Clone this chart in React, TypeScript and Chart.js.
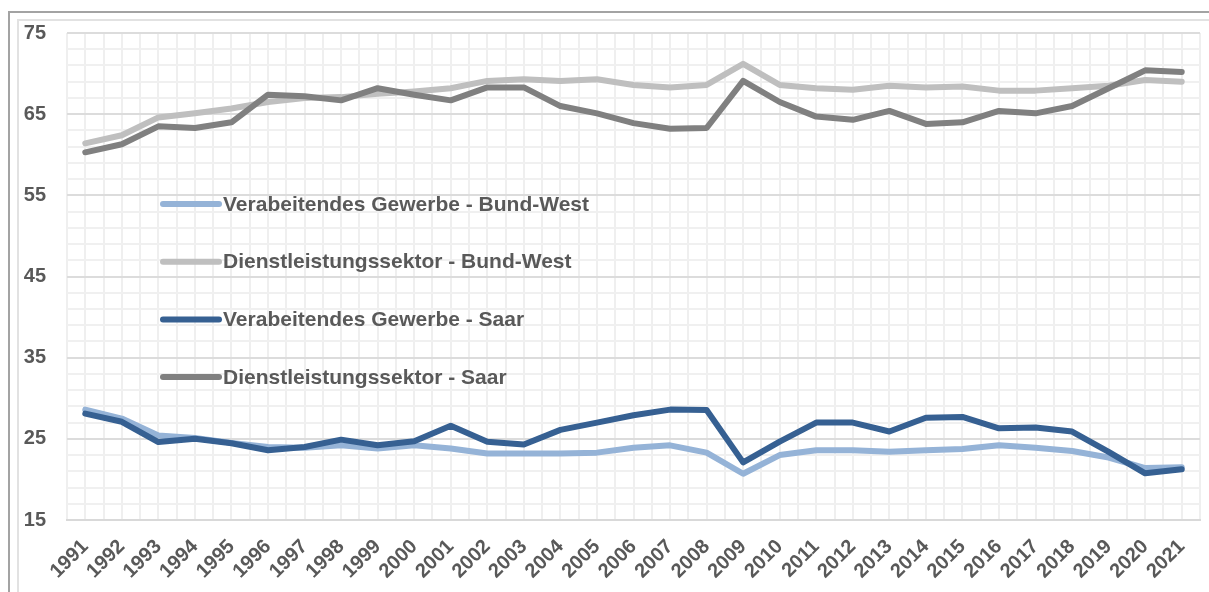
import React, { useEffect, useRef } from 'react';
import { Chart, registerables } from 'chart.js';

Chart.register(...registerables);

const years = [
  '1991', '1992', '1993', '1994', '1995', '1996', '1997', '1998', '1999', '2000',
  '2001', '2002', '2003', '2004', '2005', '2006', '2007', '2008', '2009', '2010',
  '2011', '2012', '2013', '2014', '2015', '2016', '2017', '2018', '2019', '2020', '2021',
];

const vgBundWest = [
  28.6, 27.5, 25.4, 25.1, 24.5, 24.0, 23.9, 24.2, 23.8, 24.2,
  23.8, 23.2, 23.2, 23.2, 23.3, 23.9, 24.2, 23.3, 20.7, 23.0,
  23.6, 23.6, 23.4, 23.6, 23.75, 24.2, 23.9, 23.5, 22.7, 21.4, 21.5,
];

const dlBundWest = [
  61.4, 62.4, 64.6, 65.1, 65.7, 66.5, 67.0, 67.1, 67.5, 67.8,
  68.2, 69.1, 69.3, 69.1, 69.3, 68.6, 68.3, 68.6, 71.2, 68.6,
  68.2, 68.0, 68.5, 68.3, 68.4, 67.9, 67.9, 68.2, 68.5, 69.2, 69.0,
];

const vgSaar = [
  28.1, 27.1, 24.6, 25.0, 24.45, 23.6, 24.0, 24.9, 24.2, 24.7,
  26.6, 24.65, 24.3, 26.1, 27.0, 27.9, 28.6, 28.55, 22.1, 24.65,
  27.0, 27.0, 25.9, 27.6, 27.7, 26.3, 26.4, 25.9, 23.4, 20.75, 21.25,
];

const dlSaar = [
  60.3, 61.3, 63.5, 63.3, 64.0, 67.4, 67.2, 66.7, 68.2, 67.4,
  66.7, 68.3, 68.3, 66.0, 65.1, 63.9, 63.2, 63.3, 69.1, 66.5,
  64.7, 64.3, 65.4, 63.8, 64.0, 65.4, 65.1, 66.0, 68.2, 70.4, 70.2,
];

const seriesLabels = [
  'Verabeitendes Gewerbe - Bund-West',
  'Dienstleistungssektor - Bund-West',
  'Verabeitendes Gewerbe - Saar',
  'Dienstleistungssektor - Saar',
];

const yMajorTicks = [15, 25, 35, 45, 55, 65, 75];

const FONT_FAMILY = "'Liberation Sans', Arial, sans-serif";
const TEXT_COLOR = '#595959';

const toPoints = (arr: number[]) => arr.map((v, i) => ({ x: i, y: v }));

const insideLegend = {
  id: 'insideLegend',
  afterDraw(chart: any) {
    const { ctx, chartArea } = chart;
    const x0 = chartArea.left + 96;
    const x1 = chartArea.left + 152;
    const tx = chartArea.left + 156;
    const y0 = chartArea.top + 171;
    const dy = 57.7;
    ctx.save();
    ctx.font = `bold 21px ${FONT_FAMILY}`;
    ctx.textBaseline = 'middle';
    ctx.textAlign = 'left';
    chart.data.datasets.forEach((ds: any, i: number) => {
      const y = y0 + i * dy;
      ctx.strokeStyle = ds.borderColor;
      ctx.lineWidth = 6;
      ctx.lineCap = 'round';
      ctx.beginPath();
      ctx.moveTo(x0, y);
      ctx.lineTo(x1, y);
      ctx.stroke();
      ctx.fillStyle = TEXT_COLOR;
      ctx.fillText(ds.label, tx, y + 1);
    });
    ctx.restore();
  },
};

export default function App() {
  const canvasRef = useRef<HTMLCanvasElement | null>(null);

  useEffect(() => {
    if (!canvasRef.current) return;
    const common = {
      borderWidth: 6,
      pointRadius: 0,
      pointHoverRadius: 0,
      tension: 0,
      borderCapStyle: 'round' as const,
      borderJoinStyle: 'round' as const,
      fill: false,
    };
    const chart = new Chart(canvasRef.current, {
      type: 'line',
      data: {
        datasets: [
          { ...common, label: seriesLabels[0], data: toPoints(vgBundWest), borderColor: '#95b3d7', order: 1 },
          { ...common, label: seriesLabels[1], data: toPoints(dlBundWest), borderColor: '#bfbfbf', order: 1 },
          { ...common, label: seriesLabels[2], data: toPoints(vgSaar), borderColor: '#366092', order: 0 },
          { ...common, label: seriesLabels[3], data: toPoints(dlSaar), borderColor: '#808080', order: 0 },
        ],
      },
      options: {
        animation: false,
        responsive: false,
        events: [],
        layout: { padding: { left: 0, top: 33, right: 9, bottom: 0 } },
        plugins: {
          legend: { display: false },
          tooltip: { enabled: false },
          title: { display: false },
        },
        scales: {
          x: {
            type: 'linear',
            min: -0.5,
            max: 30.5,
            afterFit: (s: any) => {
              s.height = 72;
              s.paddingLeft = 0;
              s.paddingRight = 0;
            },
            grid: {
              color: '#efefef',
              lineWidth: 2,
              drawTicks: false,
            },
            border: { display: true, color: '#d9d9d9', width: 2 },
            ticks: {
              stepSize: 0.5,
              autoSkip: false,
              minRotation: 45,
              maxRotation: 45,
              padding: 15,
              color: TEXT_COLOR,
              font: { family: FONT_FAMILY, size: 20, weight: 'bold' },
              callback: (v: any) => (Number.isInteger(v) ? years[v] : ''),
            },
          },
          y: {
            type: 'linear',
            min: 15,
            max: 75,
            afterFit: (s: any) => { s.width = 67; },
            grid: {
              color: (c: any) => (yMajorTicks.includes(c.tick?.value) ? '#dcdcdc' : '#f0f0f0'),
              lineWidth: 2,
              drawTicks: false,
            },
            border: { display: false },
            ticks: {
              stepSize: 2,
              autoSkip: false,
              padding: 21,
              color: TEXT_COLOR,
              font: { family: FONT_FAMILY, size: 20, weight: 'bold' },
              callback: (v: any) => (yMajorTicks.includes(v) ? String(v) : ''),
            },
          },
        },
      },
      plugins: [insideLegend],
    } as any);
    return () => chart.destroy();
  }, []);

  return (
    <div style={{ position: 'absolute', left: 0, top: 0, width: 1209, height: 592, overflow: 'hidden', background: '#ffffff' }}>
      <div style={{ position: 'absolute', left: 8, top: 11, width: 1400, height: 800, border: '2px solid #a3a3a3' }} />
      <div style={{ position: 'absolute', left: 17, top: 19, width: 1400, height: 800, border: '2px solid #e2e2e2' }} />
      <canvas ref={canvasRef} width={1209} height={592} style={{ position: 'absolute', left: 0, top: 0, width: 1209, height: 592 }} />
    </div>
  );
}
